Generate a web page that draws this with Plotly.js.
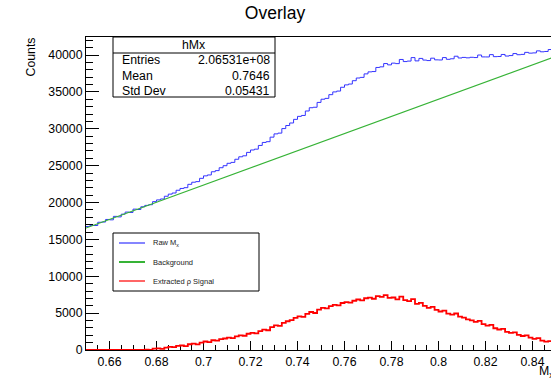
<!DOCTYPE html>
<html>
<head>
<meta charset="utf-8">
<script src="https://cdn.plot.ly/plotly-3.0.1.min.js"></script>
<style>
  html, body { margin: 0; padding: 0; overflow: hidden; background: #fff; }
  #plot { width: 560px; height: 382px; }
</style>
</head>
<body>
<div id="plot"></div>
<script>
// Histogram binning of the missing-mass spectrum
const xMin = 0.65, xMax = 0.85, nBins = 120;

// Raw M_x counts per bin
const rawCounts = [
  16750, 16900, 16880, 17320, 17350, 17700, 17650, 18120, 18050, 18420,
  18700, 18650, 19100, 19050, 19420,
  19609, 19700, 20117, 20351, 20475, 20849, 21133, 21287, 21661, 21905,
  22010, 22464, 22748, 22832, 23276, 23610, 23734, 24168, 24322, 24716,
  24991, 25315, 25439, 25863, 26197, 26331, 26795, 27119, 27233, 27737,
  28142, 28246, 28860, 29304, 29408, 30022, 30436, 30780, 31274, 31678,
  31803, 32407, 32851, 32915, 33569, 34003, 34117, 34621, 34995, 35109,
  35624, 35948, 36062, 36516, 36880, 36964, 37438, 37712, 37756, 38310,
  38395, 38839, 38663, 38897, 38831, 39395, 39109, 39173, 39647, 39201,
  39536, 39310, 39244, 39568, 39342, 39326, 39650, 39414, 39488, 39832,
  39597, 39671, 39615, 39689, 39653, 39997, 39741, 39735, 40049, 39773,
  39798, 40072, 39856, 39920, 40194, 40038, 40082, 40356, 40250, 40284,
  40559, 40433, 40477, 40741, 40585
];

// Extracted rho signal counts per bin
const signalCounts = [
  0, 0, 0, 0, 0, 0, 0, 0, 0, 0, 0, 0, 0, 0, 0,
  60, 0, 180, 220, 150, 330, 420, 380, 560, 610,
  520, 780, 870, 760, 1010, 1150, 1080, 1320, 1280, 1480,
  1560, 1690, 1620, 1850, 1990, 1930, 2200, 2330, 2250, 2560,
  2770, 2680, 3100, 3350, 3260, 3680, 3900, 4050, 4350, 4560,
  4490, 4900, 5150, 5020, 5480, 5720, 5640, 5950, 6130, 6050,
  6370, 6500, 6420, 6680, 6850, 6740, 7020, 7100, 6950, 7310,
  7200, 7450, 7080, 7120, 6860, 7230, 6750, 6620, 6900, 6260,
  6400, 5980, 5720, 5850, 5430, 5220, 5350, 4920, 4800, 4950,
  4520, 4400, 4150, 4030, 3800, 3950, 3500, 3300, 3420, 2950,
  2780, 2860, 2450, 2320, 2400, 2050, 1900, 1980, 1680, 1520,
  1600, 1280, 1130, 1200, 850
];

// Linear background under the peak
const bgX = [0.65, 0.85];
const bgY = [16540, 39830];

// Statistics box and legend content
const statsTitle = 'hMx';
const statsLabels = ['Entries', 'Mean', 'Std Dev'];
const statsValues = ['2.06531e+08', '0.7646', '0.05431'];
const legendNames = ['Raw M<sub>x</sub>', 'Background', 'Extracted ρ Signal'];
const seriesColors = ['#3434ff', '#36b336', '#ff0000'];

// Step outline: bin edges, last value repeated to close the final bin
const binW = (xMax - xMin) / nBins;
const edges = Array.from({ length: nBins + 1 }, (_, i) => xMin + i * binW);
const stepY = arr => arr.concat([arr[arr.length - 1]]);

// Frame geometry in pixels
const W = 560, H = 382, L = 86, R = 556, T = 37, B = 350;
const px = x => (x - L) / (R - L);
const py = y => (B - y) / (B - T);

const FONT = '"Liberation Sans", Arial, Helvetica, sans-serif';

const traces = [
  { x: edges, y: stepY(rawCounts), type: 'scatter', mode: 'lines',
    line: { shape: 'hv', color: seriesColors[0], width: 1 }, hoverinfo: 'skip' },
  { x: bgX, y: bgY, type: 'scatter', mode: 'lines',
    line: { color: seriesColors[1], width: 1.2 }, hoverinfo: 'skip' },
  { x: edges, y: stepY(signalCounts), type: 'scatter', mode: 'lines',
    line: { shape: 'hv', color: seriesColors[2], width: 1.8 }, hoverinfo: 'skip' }
];

const shapes = [];
const annotations = [];

// Statistics box
shapes.push({ type: 'rect', xref: 'paper', yref: 'paper',
  x0: px(113), x1: px(275), y0: py(97), y1: py(37),
  line: { color: '#000', width: 1 }, fillcolor: '#fff', layer: 'above' });
shapes.push({ type: 'line', xref: 'paper', yref: 'paper',
  x0: px(113), x1: px(275), y0: py(53), y1: py(53),
  line: { color: '#000', width: 1 }, layer: 'above' });
annotations.push({ xref: 'paper', yref: 'paper', x: px(194), y: py(45),
  text: statsTitle, showarrow: false, xanchor: 'center', yanchor: 'middle',
  font: { family: FONT, size: 12.3, color: '#000' } });
const rowY = [60, 75.5, 91];
statsLabels.forEach((lab, i) => {
  annotations.push({ xref: 'paper', yref: 'paper', x: px(120), y: py(rowY[i]),
    text: lab, showarrow: false, xanchor: 'left', yanchor: 'middle',
    font: { family: FONT, size: 12.3, color: '#000' } });
  annotations.push({ xref: 'paper', yref: 'paper', x: px(272), y: py(rowY[i]),
    text: statsValues[i], showarrow: false, xanchor: 'right', yanchor: 'middle',
    font: { family: FONT, size: 12.3, color: '#000' } });
});

// Legend box
shapes.push({ type: 'rect', xref: 'paper', yref: 'paper',
  x0: px(113), x1: px(259), y0: py(291), y1: py(233),
  line: { color: '#000', width: 1 }, fillcolor: '#fff', layer: 'above' });
const legY = [243, 262, 281];
legendNames.forEach((name, i) => {
  shapes.push({ type: 'line', xref: 'paper', yref: 'paper',
    x0: px(119), x1: px(145), y0: py(legY[i]), y1: py(legY[i]),
    line: { color: seriesColors[i], width: i === 1 ? 2 : 1.2 }, layer: 'above' });
  annotations.push({ xref: 'paper', yref: 'paper', x: px(151), y: py(legY[i]),
    text: name, showarrow: false, xanchor: 'left', yanchor: 'middle',
    font: { family: FONT, size: 7.5, color: '#222' } });
});

// Axis titles, aligned to the axis ends
annotations.push({ xref: 'paper', yref: 'paper', x: px(30), y: py(57.5),
  text: 'Counts', textangle: -90, showarrow: false,
  xanchor: 'center', yanchor: 'middle',
  font: { family: FONT, size: 12.3, color: '#000' } });
annotations.push({ xref: 'x', yref: 'paper', x: xMax, y: py(372),
  text: 'M<sub>x</sub>', showarrow: false, xanchor: 'right', yanchor: 'middle',
  font: { family: FONT, size: 12.3, color: '#000' } });

const layout = {
  width: W, height: H,
  margin: { l: L, r: W - R, t: T, b: H - B, pad: 0 },
  paper_bgcolor: '#fff', plot_bgcolor: '#fff',
  showlegend: false,
  font: { family: FONT, size: 12.3, color: '#000' },
  title: { text: 'Overlay', xref: 'container', yref: 'container',
    x: 275 / W, y: 1 - 13 / H, xanchor: 'center', yanchor: 'middle',
    font: { family: FONT, size: 17.5, color: '#000' } },
  xaxis: {
    range: [xMin, xMax], tick0: 0, dtick: 0.02,
    ticks: 'inside', ticklen: 9, tickwidth: 1, tickcolor: '#000',
    minor: { dtick: 0.005, tick0: 0, ticks: 'inside', ticklen: 5, tickwidth: 1, tickcolor: '#000' },
    showline: true, linecolor: '#000', linewidth: 1, mirror: true,
    showgrid: false, zeroline: false, layer: 'below traces',
    tickfont: { family: FONT, size: 12.3, color: '#000' }
  },
  yaxis: {
    range: [0, 42440], tick0: 0, dtick: 5000, tickformat: 'd',
    ticks: 'inside', ticklen: 13, tickwidth: 1, tickcolor: '#000',
    minor: { dtick: 1000, tick0: 0, ticks: 'inside', ticklen: 7, tickwidth: 1, tickcolor: '#000' },
    showline: true, linecolor: '#000', linewidth: 1, mirror: true,
    showgrid: false, zeroline: false, layer: 'below traces',
    tickfont: { family: FONT, size: 12.3, color: '#000' }
  },
  shapes: shapes,
  annotations: annotations
};

Plotly.newPlot('plot', traces, layout, { staticPlot: true, displayModeBar: false });
</script>
</body>
</html>
